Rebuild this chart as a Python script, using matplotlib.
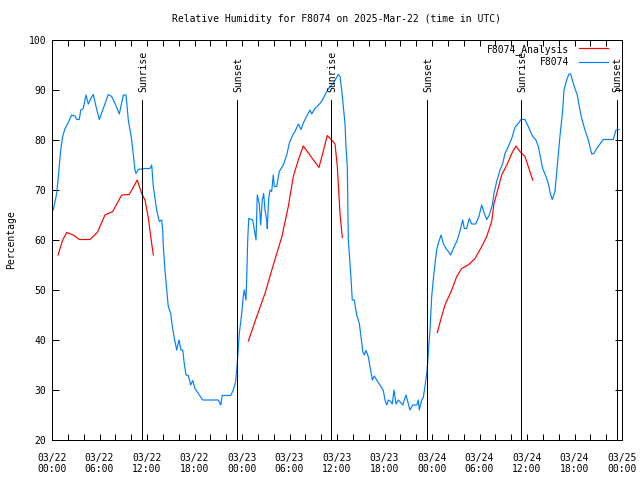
import numpy as np
import pandas as pd
import matplotlib
matplotlib.use("Agg")
import matplotlib.pyplot as plt
import matplotlib.dates as mdates

START = pd.Timestamp("2025-03-22 00:00")

# F8074 observations: hours since 03/22 00:00 UTC, relative humidity (%)
obs_hours = [
    0.16, 0.59, 0.80, 1.10, 1.35, 1.64, 1.93, 2.49, 2.91, 3.12, 3.45, 3.63,
    3.95, 4.29, 4.59, 4.89, 5.22, 5.56, 5.97, 6.48, 7.11, 7.54, 7.96, 8.50,
    9.01, 9.35, 9.64, 10.07, 10.48, 10.61, 10.90, 11.75, 12.38, 12.59, 12.80,
    13.22, 13.55, 13.86, 13.98, 14.06, 14.27, 14.49, 14.69, 14.99, 15.20,
    15.41, 15.75, 16.04, 16.29, 16.51, 16.71, 16.93, 17.22, 17.52, 17.77,
    18.06, 18.48, 19.03, 21.01, 21.31, 21.51, 22.57, 22.90, 23.20, 23.33,
    23.46, 23.66, 23.96, 24.16, 24.29, 24.50, 24.59, 24.72, 24.85, 25.35,
    25.64, 25.77, 25.93, 26.18, 26.36, 26.56, 26.74, 26.90, 27.12, 27.19,
    27.37, 27.54, 27.75, 27.95, 28.08, 28.38, 28.71, 29.22, 29.65, 29.97,
    30.40, 30.69, 31.11, 31.45, 31.83, 32.25, 32.59, 32.80, 33.22, 33.64,
    33.85, 34.19, 34.70, 35.11, 35.53, 35.87, 36.16, 36.38, 36.59, 36.79,
    37.01, 37.13, 37.30, 37.36, 37.43, 37.64, 37.77, 37.93, 38.18, 38.49,
    38.82, 39.03, 39.25, 39.45, 39.66, 39.95, 40.17, 40.46, 40.71, 41.01,
    41.43, 41.85, 42.06, 42.28, 42.48, 42.78, 42.98, 43.20, 43.45, 43.74,
    44.04, 44.30, 44.71, 44.88, 45.22, 45.56, 46.07, 46.27, 46.39, 46.70,
    46.90, 47.11, 47.33, 47.45, 47.58, 47.75, 47.96, 48.16, 48.38, 48.59,
    48.79, 49.14, 49.43, 49.77, 50.06, 50.36, 50.69, 51.12, 51.45, 51.88,
    52.08, 52.38, 52.71, 53.01, 53.52, 53.93, 54.27, 54.61, 54.91, 55.24,
    55.62, 55.83, 56.17, 56.59, 56.93, 57.22, 57.64, 58.07, 58.48, 58.90,
    59.24, 59.74, 60.16, 60.72, 61.13, 61.43, 61.73, 61.98, 62.40, 62.69,
    62.99, 63.19, 63.53, 63.82, 64.16, 64.51, 64.67, 65.01, 65.30, 65.52,
    65.77, 66.06, 66.35, 66.60, 66.91, 67.32, 67.74, 68.17, 68.46, 68.80,
    69.22, 69.63, 70.90, 71.24, 71.65,
]
obs_rh = [
    66, 69.3, 72.7, 78, 80.7, 82.3, 83.1, 85, 84.8, 84.1, 84.1, 86,
    86.3, 89, 87.2, 88.3, 89.1, 86.7, 84.1, 86.3, 89.1, 88.7, 87.3, 85.2,
    89, 89, 84, 80, 74, 73.3, 74.1, 74.3, 74.3, 75, 70.7,
    66, 63.7, 64, 62, 58.7, 54, 50, 46.7, 45.3, 42.7,
    40.7, 38, 40, 38, 38, 35.3, 33, 32.9, 31, 31.9,
    30.3, 29.3, 28, 28, 27, 28.9, 28.9, 30, 31.7, 34,
    36.7, 41.3, 45.3, 48.7, 50, 48, 52, 60, 64.3, 64,
    61.3, 60, 69, 67.3, 63, 68, 69.3, 66, 64, 62.3,
    68.3, 70, 69.7, 73, 70.7, 70.7, 73.7, 75, 77, 79.3,
    81, 81.7, 83.2, 82.1, 83.7, 85, 86, 85.2, 86.3, 87,
    87.3, 88.1, 89.7, 90.7, 91.3, 92.3, 93.1, 92.7, 90, 86.7,
    83.3, 78.7, 74.7, 67.3, 60, 55.3, 52.3, 48, 48, 45,
    43.3, 40.7, 37.7, 37, 37.9, 36.7, 34.7, 32, 32.8, 32,
    31, 29.9, 28, 27, 28, 27.7, 27.2, 30, 27.2, 28,
    27.5, 27, 29, 28, 26, 27, 27, 28, 26, 28,
    28.5, 30.7, 33.3, 35.3, 38.7, 42, 48.7, 52, 55.3, 58,
    59.3, 61, 59.3, 58.3, 57.7, 57, 58.3, 59.7, 61.3, 64,
    62.3, 62.3, 64.3, 63.2, 63.2, 64.7, 67, 65.3, 64.1, 65,
    67, 69.3, 71.7, 74, 75.3, 77.3, 78.7, 80.3, 82.5, 83.3,
    84.1, 84.1, 82.7, 80.7, 80, 78.7, 76.3, 74.3, 72.7, 71.3,
    69, 68.1, 69.7, 74.7, 80.7, 86, 90, 92, 93.2, 93.2,
    91.7, 90.3, 89, 86.7, 84.3, 82, 80, 77.2, 77.3, 78.3,
    79.2, 80.1, 80.1, 82, 82.1,
]

# F8074_Analysis (NaN marks gaps between runs)
ana_hours = [
    0.76, 1.35, 1.86, 2.69, 3.45, 4.80, 5.72, 6.69, 7.67, 8.80, 9.76, 10.77,
    11.33, 11.75, 12.16, 12.59, 12.80, 18.0,
    24.80, 25.86, 26.90, 27.95, 29.01, 29.85, 30.06, 30.48, 31.11, 31.74,
    32.80, 33.72, 34.19, 34.77, 35.33, 35.75, 36.04, 36.38, 36.67, 42.0,
    48.67, 49.22, 49.64, 50.49, 51.12, 51.75, 52.58, 53.43, 54.28, 54.91,
    55.54, 55.83, 56.25, 56.80, 57.51, 58.07, 58.61, 59.11, 59.74, 60.16,
    60.72,
]
ana_rh = [
    57, 60, 61.5, 61, 60.1, 60.1, 61.5, 65, 65.7, 69, 69.1, 72,
    69.3, 68, 64.5, 59.3, 57, np.nan,
    39.8, 44.7, 49.3, 55, 60.5, 66.7, 68.7, 72.7, 76, 78.8,
    76.5, 74.5, 77.3, 80.9, 80, 79.2, 74.7, 65.3, 60.5, np.nan,
    41.5, 44.7, 47, 50, 52.7, 54.3, 55, 56.3, 58.7, 60.7,
    63.7, 67.3, 69.7, 73, 75.2, 77.3, 78.8, 77.7, 76.7, 74.7,
    72,
]

sun_times = ["2025-03-22 11:24", "2025-03-22 23:24", "2025-03-23 11:15",
             "2025-03-23 23:24", "2025-03-24 11:15", "2025-03-24 23:20"]
sun_labels = ["Sunrise", "Sunset", "Sunrise", "Sunset", "Sunrise", "Sunset"]

FONT = "DejaVu Sans Mono"
FS = 7
LW = 0.72  # about one pixel at 100 dpi


def to_time(hours):
    return START + pd.to_timedelta(np.asarray(hours, dtype=float), unit="h")


fig = plt.figure(figsize=(6.4, 4.8), dpi=100)
ax = fig.add_axes([52 / 640, 40 / 480, 570 / 640, 400 / 480])

ax.plot(to_time(ana_hours), ana_rh, color="#ff0000", linewidth=0.85,
        label="F8074_Analysis")
ax.plot(to_time(obs_hours), obs_rh, color="#0080ff", linewidth=0.85,
        label="F8074")

for t, lab in zip(sun_times, sun_labels):
    ts = pd.Timestamp(t)
    ax.plot([ts, ts], [20, 88], color="black", linewidth=LW, antialiased=False)
    ax.text(ts + pd.Timedelta(minutes=8), 89.5, lab, rotation=90,
            ha="center", va="bottom", family=FONT, fontsize=FS)

ax.set_xlim(START, START + pd.Timedelta(hours=72))
ax.set_ylim(20, 100)
ax.set_yticks(np.arange(20, 101, 10))
ax.xaxis.set_major_locator(mdates.HourLocator(byhour=range(0, 24, 6)))
ax.xaxis.set_minor_locator(mdates.HourLocator(byhour=range(0, 24, 2)))
ax.xaxis.set_major_formatter(mdates.DateFormatter("%m/%d\n%H:%M"))
ax.tick_params(axis="both", which="both", direction="in", top=True, right=True,
               labelsize=FS, width=LW)
ax.tick_params(axis="x", which="both", length=4, pad=9)
ax.tick_params(axis="y", length=5, pad=4)
for lab in ax.get_xticklabels() + ax.get_yticklabels():
    lab.set_family(FONT)
for sp in ax.spines.values():
    sp.set_linewidth(LW)

ax.set_ylabel("Percentage", family=FONT, fontsize=FS, labelpad=9)
ax.set_title("Relative Humidity for F8074 on 2025-Mar-22 (time in UTC)",
             family=FONT, fontsize=FS, pad=13)

leg = ax.legend(loc="upper right", bbox_to_anchor=(0.988, 1.008),
                markerfirst=False, frameon=False,
                prop={"family": FONT, "size": FS}, handlelength=3.0,
                handletextpad=1.0, labelspacing=0.3, borderaxespad=0.3)

fig.savefig("out.png", dpi=100)
